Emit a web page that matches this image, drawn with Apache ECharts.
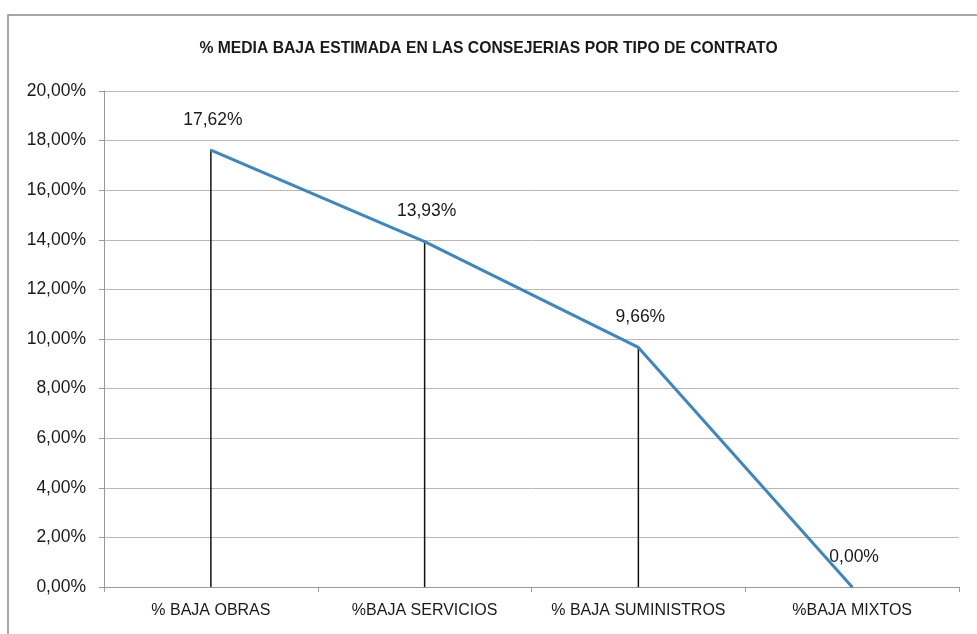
<!DOCTYPE html>
<html>
<head>
<meta charset="utf-8">
<script src="https://cdn.jsdelivr.net/npm/echarts@6/dist/echarts.min.js"></script>
<style>
html,body{margin:0;padding:0;background:#fff;}
#chart{width:977px;height:634px;}
</style>
</head>
<body>
<div id="chart"></div>
<script>
// Average estimated discount by contract type
const categories = ['% BAJA OBRAS', '%BAJA SERVICIOS', '% BAJA SUMINISTROS', '%BAJA MIXTOS'];
const values = [17.62, 13.93, 9.66, 0.00];
const yTicks = [0, 2, 4, 6, 8, 10, 12, 14, 16, 18, 20];

const fmt = v => v.toFixed(2).replace('.', ',') + '%';
const font = '"Liberation Sans", Arial, sans-serif';

const chart = echarts.init(document.getElementById('chart'), null, {renderer: 'canvas'});
chart.setOption({
  backgroundColor: '#fff',
  animation: false,
  title: {
    text: '% MEDIA BAJA ESTIMADA EN LAS CONSEJERIAS POR TIPO DE CONTRATO',
    left: 'center',
    top: 36,
    textStyle: {fontFamily: font, fontWeight: 'bold', fontSize: 15.7, color: '#1a1a1a'}
  },
  graphic: [{
    type: 'rect',
    shape: {x: 8, y: 15, width: 1000, height: 700},
    style: {fill: 'none', stroke: '#8a8a8a', lineWidth: 1.5},
    silent: true, z: -1
  }],
  grid: {left: 104, right: 18, top: 91, bottom: 47},
  xAxis: {
    type: 'category',
    data: categories,
    boundaryGap: true,
    axisLine: {lineStyle: {color: '#9a9a9a', width: 1}},
    axisTick: {show: true, length: 5, lineStyle: {color: '#9a9a9a'}},
    axisLabel: {interval: 0, hideOverlap: false, fontFamily: font, fontSize: 16, color: '#1a1a1a', margin: 16}
  },
  yAxis: {
    type: 'value',
    min: yTicks[0],
    max: yTicks[yTicks.length - 1],
    interval: 2,
    axisLine: {show: true, lineStyle: {color: '#9a9a9a', width: 1}},
    axisTick: {show: true, length: 5, lineStyle: {color: '#9a9a9a'}},
    axisLabel: {fontFamily: font, fontSize: 17.5, color: '#1a1a1a', margin: 18, formatter: v => fmt(v)},
    splitLine: {lineStyle: {color: '#b8b8b8', width: 1}}
  },
  series: [
    {
      // drop lines from each point to the category axis
      type: 'bar',
      data: values,
      barWidth: 1.5,
      itemStyle: {color: '#111'},
      silent: true,
      z: 1
    },
    {
      type: 'line',
      data: values,
      showSymbol: true,
      symbol: 'circle',
      symbolSize: 2,
      itemStyle: {color: '#3b86c4'},
      lineStyle: {color: '#3b86c4', width: 3},
      label: {
        show: true,
        position: 'top',
        distance: 20,
        offset: [2, 0],
        formatter: p => fmt(p.value),
        fontFamily: font,
        fontSize: 17.5,
        color: '#1a1a1a'
      },
      z: 3
    }
  ]
});
</script>
</body>
</html>
